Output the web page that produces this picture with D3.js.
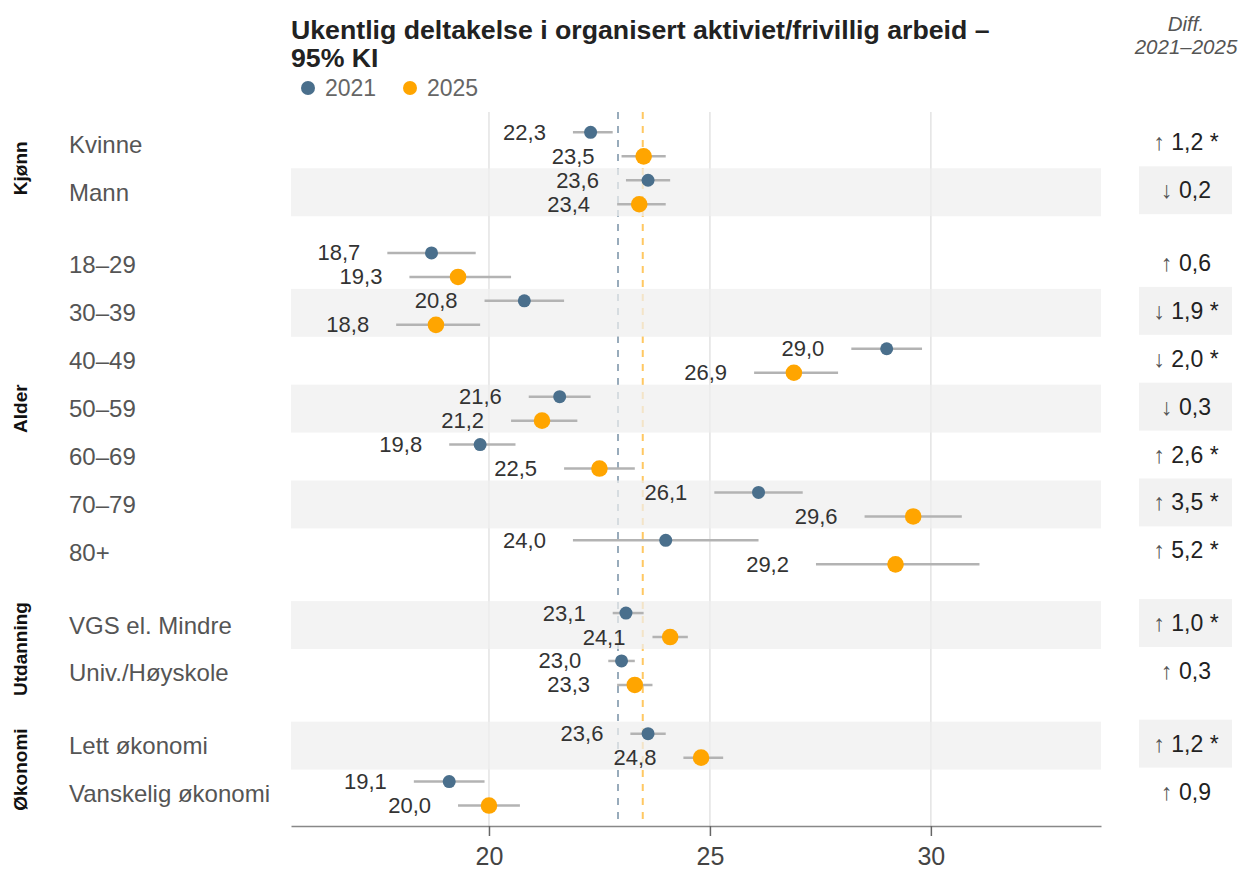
<!DOCTYPE html>
<html><head><meta charset="utf-8">
<script src="https://cdn.jsdelivr.net/npm/d3@7"></script>
<style>
html,body{margin:0;padding:0;background:#fff;}
svg{display:block;font-family:"Liberation Sans",Arial,Helvetica,sans-serif;}
</style></head>
<body>
<svg id="chart" width="1241" height="871"></svg>
<script>
// ---------- data ----------
const categories = ["Kvinne","Mann","18–29","30–39","40–49","50–59","60–69","70–79","80+","VGS el. Mindre","Univ./Høyskole","Lett økonomi","Vanskelig økonomi"];
const groupNames = ["Kjønn","Alder","Utdanning","Økonomi"];
const groupIndex = [0,0,1,1,1,1,1,1,1,2,2,3,3];
const val2021 = [22.3,23.6,18.7,20.8,29.0,21.6,19.8,26.1,24.0,23.1,23.0,23.6,19.1];
const lo2021  = [21.9,23.1,17.7,19.9,28.2,20.9,19.1,25.1,21.9,22.8,22.7,23.2,18.3];
const hi2021  = [22.8,24.1,19.7,21.7,29.8,22.3,20.6,27.1,26.1,23.5,23.3,24.0,19.9];
const val2025 = [23.5,23.4,19.3,18.8,26.9,21.2,22.5,29.6,29.2,24.1,23.3,24.8,20.0];
const lo2025  = [23.0,22.9,18.2,17.9,26.0,20.5,21.7,28.5,27.4,23.7,22.9,24.4,19.3];
const hi2025  = [24.0,24.0,20.5,19.8,27.9,22.0,23.3,30.7,31.1,24.5,23.7,25.3,20.7];
const diffs   = [1.2,-0.2,0.6,-1.9,-2.0,-0.3,2.6,3.5,5.2,1.0,0.3,1.2,0.9];
const significant = [1,0,0,1,1,0,1,1,1,1,0,1,0];
const mean2021 = 22.92;
const mean2025 = 23.48;
const xTicks = [20,25,30];
const years = ["2021","2025"];
const title = ["Ukentlig deltakelse i organisert aktiviet/frivillig arbeid –","95% KI"];

// ---------- setup ----------
const svg = d3.select("#chart");
const col2021 = "#4a6f8c", col2025 = "#ffa500";
const fmt = v => d3.format(".1f")(v).replace(".", ",");

const gapU = 24.8/47.9;
const pos = categories.map((c,i)=> i + groupIndex[i]*gapU);
const x = d3.scaleLinear().domain([15.52,33.85]).range([291,1101]);
const y = d3.scaleLinear().domain([0, categories.length + (groupNames.length-1)*gapU]).range([120.4, 817.5]);
const axisY = 826;

// gridlines
svg.append("g").selectAll("line").data(xTicks).join("line")
  .attr("x1",d=>x(d)).attr("x2",d=>x(d)).attr("y1",112).attr("y2",axisY)
  .attr("stroke","#e3e3e3").attr("stroke-width",1.5);

// mean dashed lines
svg.append("g").selectAll("line").data([[mean2021,"#98abbb"],[mean2025,"#ffc862"]]).join("line")
  .attr("x1",d=>x(d[0])).attr("x2",d=>x(d[0])).attr("y1",112).attr("y2",axisY)
  .attr("stroke",d=>d[1]).attr("stroke-width",2).attr("stroke-dasharray","7,7");

// bands (alternate rows)
const bandIdx = categories.map((c,i)=>i).filter(i=>i%2===1);
svg.append("g").selectAll("rect").data(bandIdx).join("rect")
  .attr("x",x.range()[0]).attr("width",x.range()[1]-x.range()[0])
  .attr("y",i=>y(pos[i])).attr("height",i=>y(pos[i]+1)-y(pos[i]))
  .attr("fill","#efefef").attr("fill-opacity",0.72);

// diff boxes
svg.append("g").selectAll("rect").data(bandIdx).join("rect")
  .attr("x",1139).attr("width",93)
  .attr("y",i=>y(pos[i])-2).attr("height",i=>y(pos[i]+1)-y(pos[i]))
  .attr("fill","#f2f2f2");

// axis
const axis = svg.append("g").attr("transform",`translate(0,${axisY})`)
  .call(d3.axisBottom(x).tickValues(xTicks).tickSize(10).tickPadding(8).tickSizeOuter(0));
axis.select(".domain").attr("stroke","#888").attr("stroke-width",1.5);
axis.selectAll(".tick line").attr("stroke","#666").attr("stroke-width",1.5);
axis.selectAll(".tick text").attr("font-size",25).attr("fill","#444")
  .attr("font-family","Liberation Sans, Arial, sans-serif").attr("dy",null).attr("y",39);

// series
const series = [
  {name:"2021", v:val2021, lo:lo2021, hi:hi2021, col:col2021, r:6.5, dy:-12},
  {name:"2025", v:val2025, lo:lo2025, hi:hi2025, col:col2025, r:8.3, dy:12}
];
const rowC = i => (y(pos[i]) + y(pos[i]+1))/2;
series.forEach(s=>{
  const g = svg.append("g");
  const idx = categories.map((c,i)=>i);
  g.selectAll("line.ci").data(idx).join("line").attr("class","ci")
    .attr("x1",i=>x(s.lo[i])).attr("x2",i=>x(s.hi[i]))
    .attr("y1",i=>rowC(i)+s.dy).attr("y2",i=>rowC(i)+s.dy)
    .attr("stroke","#b3b3b3").attr("stroke-width",2.5);
  g.selectAll("circle").data(idx).join("circle")
    .attr("cx",i=>x(s.v[i])).attr("cy",i=>rowC(i)+s.dy).attr("r",s.r)
    .attr("fill",s.col);
  g.selectAll("text").data(idx).join("text")
    .attr("x",i=>x(s.lo[i])-27).attr("y",i=>rowC(i)+s.dy)
    .attr("text-anchor","end").attr("dominant-baseline","central")
    .attr("font-size",22).attr("fill","#333")
    .text(i=>fmt(s.v[i]));
});

// row labels
svg.append("g").selectAll("text").data(categories).join("text")
  .attr("x",69).attr("y",(d,i)=>rowC(i)).attr("dominant-baseline","central")
  .attr("font-size",24).attr("fill","#555").text(d=>d);

// group labels
svg.append("g").selectAll("text").data(groupNames).join("text")
  .attr("transform",(g,gi)=>{
    const rows = categories.map((c,i)=>i).filter(i=>groupIndex[i]===gi);
    const c = (y(pos[rows[0]]) + y(pos[rows[rows.length-1]]+1))/2;
    return `translate(27,${c}) rotate(-90)`;
  })
  .attr("text-anchor","middle").attr("font-size",19).attr("font-weight","bold").attr("fill","#111")
  .text(d=>d);

// diff column
const dt = svg.append("g").selectAll("text").data(diffs).join("text")
  .attr("x",1186).attr("y",(d,i)=>rowC(i)-2).attr("text-anchor","middle")
  .attr("dominant-baseline","central").attr("font-size",23).attr("fill","#222");
dt.append("tspan").attr("fill","#555").text(d=> d>=0 ? "↑" : "↓");
dt.append("tspan").text((d,i)=>" " + fmt(Math.abs(d)) + (significant[i] ? " *" : ""));

svg.append("text").attr("x",1186).attr("y",31).attr("text-anchor","middle")
  .attr("font-size",20.5).attr("font-style","italic").attr("fill","#555").text("Diff.");
svg.append("text").attr("x",1186).attr("y",54).attr("text-anchor","middle")
  .attr("font-size",20.5).attr("font-style","italic").attr("fill","#555").text("2021–2025");

// title
svg.append("g").selectAll("text").data(title).join("text")
  .attr("x",291).attr("y",(d,i)=>39+i*27.5).attr("font-size",26.7).attr("font-weight","bold")
  .attr("fill","#222").text(d=>d);

// legend
const leg = svg.append("g").selectAll("g").data(years).join("g")
  .attr("transform",(d,i)=>`translate(${308+i*102},88)`);
leg.append("circle").attr("r",7).attr("fill",(d,i)=>i===0?col2021:col2025);
leg.append("text").attr("x",17).attr("dominant-baseline","central").attr("font-size",23).attr("fill","#666").text(d=>d);
</script>
</body></html>
